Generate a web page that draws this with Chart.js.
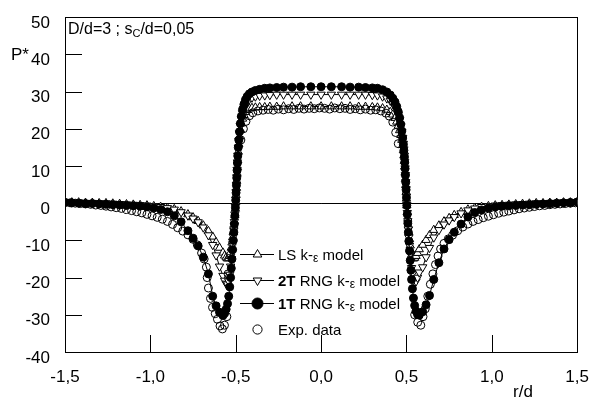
<!DOCTYPE html>
<html>
<head>
<meta charset="utf-8">
<script src="https://cdn.jsdelivr.net/npm/chart.js@4.4.0/dist/chart.umd.min.js"></script>
<style>
  html, body { margin: 0; padding: 0; background: #fff; }
  #wrap { width: 596px; height: 401px; }
</style>
</head>
<body>
<div id="wrap"><canvas id="pressaoChart" width="596" height="401"></canvas></div>
<script>
// r/d positions of the three model runs (same mesh for all)
const rModel = [
  -1.5, -1.46, -1.42, -1.38, -1.34, -1.3, -1.26, -1.22, -1.18, -1.14, -1.1, -1.06, -1.02, -0.98, -0.94, -0.9, -0.86, -0.82, -0.78, -0.75, -0.72, -0.69, -0.66, -0.635, -0.615, -0.595,
  -0.575, -0.565, -0.556, -0.548, -0.541, -0.535, -0.53, -0.526, -0.522, -0.518, -0.514, -0.511, -0.508, -0.505, -0.502,
  -0.5, -0.498, -0.496, -0.494, -0.492, -0.49, -0.488, -0.485, -0.482, -0.478, -0.473, -0.467, -0.46, -0.452, -0.443, -0.433, -0.42, -0.405, -0.385, -0.36, -0.33, -0.3, -0.26, -0.22, -0.17, -0.12, -0.06, 0,
  0.06, 0.12, 0.17, 0.22, 0.26, 0.3, 0.33, 0.36, 0.385, 0.405, 0.42, 0.433, 0.443, 0.452, 0.46, 0.467, 0.473, 0.478, 0.482, 0.485, 0.488, 0.49, 0.492, 0.494, 0.496, 0.498, 0.5,
  0.502, 0.505, 0.508, 0.511, 0.514, 0.518, 0.522, 0.526, 0.53, 0.535, 0.541, 0.548, 0.556, 0.565, 0.575,
  0.595, 0.615, 0.635, 0.66, 0.69, 0.72, 0.75, 0.78, 0.82, 0.86, 0.9, 0.94, 0.98, 1.02, 1.06, 1.1, 1.14, 1.18, 1.22, 1.26, 1.3, 1.34, 1.38, 1.42, 1.46, 1.5
];

// LS k-eps model
const pLS = [
  0.3, 0.2, 0.2, 0.1, 0.1, 0.0, 0.0, -0.1, -0.2, -0.3, -0.4, -0.5, -0.6, -0.8, -1.0, -1.3, -1.6, -2.2, -3.0, -3.8, -4.8, -6.0, -7.5, -9.0, -10.5, -12.0,
  -13.3, -14.1, -14.6, -14.9, -14.8, -14.2, -13.2, -12.0, -10.6, -9.2, -7.7, -6.3, -4.8, -3.2, -1.5,
  0.3, 2.2, 4.1, 6.0, 7.9, 9.7, 11.5, 13.8, 15.8, 17.9, 19.8, 21.4, 22.7, 23.7, 24.5, 25.0, 25.4, 25.6, 25.7, 25.8, 25.8, 25.9, 25.9, 26.0, 26.0, 26.0, 26.0, 26.0,
  26.0, 26.0, 26.0, 25.9, 25.9, 25.8, 25.7, 25.5, 25.1, 24.5, 23.8, 22.9, 21.9, 20.8, 19.6, 18.3, 17.0, 15.6, 14.2, 12.8, 11.3, 9.8, 8.2, 6.5, 4.8, 3.0, 1.2,
  -0.6, -2.4, -4.2, -6.0, -7.8, -9.7, -11.4, -12.8, -13.9, -14.6, -14.9, -14.7, -14.2, -13.4, -12.4,
  -11.2, -9.9, -8.6, -7.2, -6.0, -4.9, -4.0, -3.2, -2.4, -1.7, -1.3, -1.0, -0.8, -0.6, -0.5, -0.4, -0.3, -0.2, -0.1, 0.0, 0.0, 0.1, 0.1, 0.2, 0.2, 0.3
];

// 2T RNG k-eps model
const p2T = [
  0.3, 0.2, 0.2, 0.1, 0.1, 0.0, 0.0, -0.1, -0.2, -0.3, -0.4, -0.5, -0.6, -0.8, -1.0, -1.3, -1.7, -2.4, -3.3, -4.1, -5.1, -6.5, -8.6, -11.2, -14.0, -17.0,
  -19.5, -20.8, -21.6, -21.8, -21.0, -19.2, -17.0, -15.0, -13.0, -11.0, -9.0, -7.0, -5.0, -3.0, -1.0,
  1.0, 3.0, 5.0, 7.0, 9.0, 11.0, 12.8, 15.0, 16.8, 18.8, 20.8, 22.6, 24.2, 25.5, 26.6, 27.4, 28.0, 28.4, 28.7, 28.9, 29.0, 29.1, 29.2, 29.2, 29.2, 29.2, 29.2, 29.2,
  29.2, 29.2, 29.2, 29.2, 29.2, 29.1, 29.0, 28.7, 28.2, 27.6, 26.8, 25.9, 24.9, 23.7, 22.3, 20.8, 19.2, 17.6, 16.0, 14.5, 12.8, 11.2, 9.4, 7.6, 5.7, 3.8, 1.8,
  -0.4, -2.6, -4.8, -7.0, -9.2, -11.4, -13.6, -15.6, -17.4, -19.0, -20.3, -21.0, -21.0, -20.0, -18.6,
  -17.2, -14.5, -12.0, -9.2, -7.2, -5.7, -4.6, -3.7, -2.7, -1.9, -1.4, -1.0, -0.8, -0.6, -0.5, -0.4, -0.3, -0.2, -0.1, 0.0, 0.0, 0.1, 0.1, 0.2, 0.2, 0.3
];

// 1T RNG k-eps model
const p1T = [
  0.2, 0.1, 0.0, -0.1, -0.1, -0.2, -0.3, -0.4, -0.5, -0.6, -0.7, -0.8, -1.0, -1.3, -1.7, -2.3, -3.4, -5.0, -7.4, -9.4, -11.5, -14.5, -19.0, -25.0, -27.6, -29.3,
  -30.2, -29.6, -28.5, -27.0, -25.0, -22.5, -20.0, -17.5, -15.0, -12.5, -10.0, -7.8, -5.6, -3.4, -1.2,
  0.8, 2.8, 4.8, 6.8, 8.8, 10.8, 12.7, 15.0, 17.0, 19.2, 21.4, 23.4, 25.2, 26.6, 27.8, 28.7, 29.4, 29.9, 30.3, 30.6, 30.9, 31.0, 31.1, 31.2, 31.2, 31.3, 31.3, 31.3,
  31.3, 31.3, 31.2, 31.2, 31.1, 31.0, 30.9, 30.5, 29.9, 29.1, 28.2, 27.2, 26.0, 24.6, 23.0, 21.2, 19.4, 17.5, 15.8, 14.2, 12.5, 11.0, 9.3, 7.5, 5.6, 3.6, 1.5,
  -0.6, -3.0, -5.4, -7.8, -10.2, -12.8, -15.4, -18.0, -20.5, -23.0, -25.5, -27.5, -29.0, -29.9, -30.1,
  -29.2, -27.3, -24.8, -20.5, -16.0, -12.3, -9.8, -7.8, -5.6, -3.7, -2.5, -1.8, -1.3, -1.0, -0.8, -0.7, -0.6, -0.5, -0.4, -0.3, -0.2, -0.1, 0.0, 0.1, 0.2, 0.3
];

// measured points
const rExp = [
  -1.5, -1.47, -1.44, -1.41, -1.38, -1.35, -1.32, -1.29, -1.26, -1.23, -1.2, -1.17, -1.14, -1.11, -1.08, -1.05, -1.02, -0.99, -0.96, -0.93, -0.9, -0.87, -0.84, -0.81, -0.78, -0.75,
  -0.725, -0.7, -0.685, -0.672, -0.667, -0.66, -0.648, -0.636, -0.62, -0.607, -0.592, -0.578, -0.566, -0.552, -0.545,
  -0.47, -0.455, -0.44, -0.42, -0.4, -0.37, -0.34, -0.31, -0.28, -0.25, -0.22, -0.19, -0.16, -0.13, -0.1, -0.07, -0.04, -0.01,
  0.02, 0.05, 0.08, 0.11, 0.14, 0.17, 0.2, 0.23, 0.26, 0.29, 0.32, 0.35, 0.38, 0.4, 0.42, 0.437, 0.452,
  0.548, 0.566, 0.584, 0.597, 0.61, 0.625, 0.64, 0.655, 0.67, 0.685, 0.7, 0.72, 0.745, 0.77, 0.8, 0.83, 0.86, 0.89, 0.92, 0.95, 0.98,
  1.01, 1.04, 1.07, 1.1, 1.13, 1.16, 1.19, 1.22, 1.25, 1.28, 1.31, 1.34, 1.37, 1.4, 1.43, 1.46, 1.49
];
const pExp = [
  0.2, 0.1, 0.0, -0.1, -0.2, -0.3, -0.5, -0.6, -0.8, -1.0, -1.2, -1.4, -1.7, -2.0, -2.3, -2.6, -3.0, -3.4, -3.8, -4.3, -4.9, -5.7, -6.6, -7.5, -8.5, -9.7,
  -11.2, -13.4, -15.0, -17.2, -20.0, -22.8, -25.6, -28.0, -29.7, -31.2, -33.0, -33.8, -32.8, -30.5, -19.0,
  17.0, 20.0, 22.0, 23.5, 24.3, 24.8, 25.0, 25.2, 25.0, 25.3, 25.1, 25.4, 25.2, 25.5, 25.3, 25.5, 25.4, 25.6,
  25.5, 25.3, 25.6, 25.4, 25.5, 25.2, 25.4, 25.1, 25.3, 25.0, 25.1, 24.8, 24.2, 23.4, 21.8, 19.0, 16.0,
  -30.0, -32.0, -32.8, -30.5, -28.4, -25.0, -21.8, -19.0, -16.5, -14.2, -12.3, -10.8, -9.6, -8.6, -7.4, -6.4, -5.6, -4.9, -4.4, -3.9, -3.5,
  -3.1, -2.7, -2.4, -2.1, -1.8, -1.5, -1.3, -1.1, -0.9, -0.7, -0.6, -0.4, -0.3, -0.2, -0.1, 0.0, 0.1
];

const xTicks = [-1.5, -1.0, -0.5, 0.0, 0.5, 1.0, 1.5];
const yTicks = [-40, -30, -20, -10, 0, 10, 20, 30, 40, 50];

const FONTE = "'Liberation Sans', Arial, sans-serif";

function pontos(rs, ps) {
  return rs.map((r, i) => ({ x: r, y: ps[i] }));
}

// frame, zero line and the inward tick marks
const moldura = {
  id: 'moldura',
  beforeDatasetsDraw(chart) {
    const { ctx, chartArea: a, scales: { x, y } } = chart;
    ctx.save();
    ctx.strokeStyle = '#000';
    ctx.lineWidth = 1;
    ctx.beginPath();
    const y0 = Math.round(y.getPixelForValue(0)) + 0.5;
    ctx.moveTo(a.left, y0);
    ctx.lineTo(a.right, y0);
    yTicks.forEach(v => {
      const py = Math.round(y.getPixelForValue(v)) + 0.5;
      ctx.moveTo(a.left, py);
      ctx.lineTo(a.left + 17, py);
    });
    xTicks.forEach(v => {
      const px = Math.round(x.getPixelForValue(v)) + 0.5;
      ctx.moveTo(px, a.bottom);
      ctx.lineTo(px, a.bottom - 17);
    });
    ctx.stroke();
    ctx.strokeRect(Math.round(a.left) + 0.5, Math.round(a.top) + 0.5,
      Math.round(a.right - a.left), Math.round(a.bottom - a.top));
    ctx.restore();
  }
};

// writes a line made of pieces (bold, small greek letter, lowered subscript)
function textoRico(ctx, partes, x, y) {
  partes.forEach(p => {
    let tam = p.tam || 15;
    let dy = p.dy || 0;
    ctx.font = (p.negrito ? 'bold ' : '') + tam + 'px ' + FONTE;
    ctx.fillText(p.t, x, y + dy);
    x += ctx.measureText(p.t).width;
  });
}

const legenda = {
  id: 'legenda',
  afterDatasetsDraw(chart) {
    const ctx = chart.ctx;
    ctx.save();
    ctx.fillStyle = '#000';
    ctx.strokeStyle = '#000';
    ctx.textBaseline = 'alphabetic';
    const itens = [
      { y: 254, linha: true, estilo: { pointStyle: 'triangle', radius: 5, rotation: 0, borderWidth: 1 }, cheio: false,
        texto: [{ t: 'LS k-' }, { t: 'ε', tam: 12, dy: 2 }, { t: ' model' }] },
      { y: 280, linha: true, estilo: { pointStyle: 'triangle', radius: 5, rotation: 180, borderWidth: 1 }, cheio: false,
        texto: [{ t: '2T', negrito: true }, { t: ' RNG k-' }, { t: 'ε', tam: 12, dy: 2 }, { t: ' model' }] },
      { y: 303, linha: true, estilo: { pointStyle: 'circle', radius: 5.5, rotation: 0, borderWidth: 1 }, cheio: true,
        texto: [{ t: '1T', negrito: true }, { t: ' RNG k-' }, { t: 'ε', tam: 12, dy: 2 }, { t: ' model' }] },
      { y: 329, linha: false, estilo: { pointStyle: 'circle', radius: 4.6, rotation: 0, borderWidth: 1 }, cheio: false,
        texto: [{ t: 'Exp. data' }] }
    ];
    itens.forEach(it => {
      if (it.linha) {
        ctx.lineWidth = 1;
        ctx.beginPath();
        ctx.moveTo(240, it.y + 0.5);
        ctx.lineTo(274, it.y + 0.5);
        ctx.stroke();
      }
      ctx.fillStyle = it.cheio ? '#000' : '#fff';
      ctx.lineWidth = 1;
      Chart.helpers.drawPoint(ctx, it.estilo, 257.5, it.y + 0.5);
      ctx.fillStyle = '#000';
      textoRico(ctx, it.texto, 278, it.y + 5.5);
    });

    // case parameters and axis names
    textoRico(ctx, [{ t: 'D/d=3 ; s', tam: 16 }, { t: 'C', tam: 11, dy: 3 }, { t: '/d=0,05', tam: 16 }], 68, 34);
    textoRico(ctx, [{ t: 'P*', tam: 17 }], 11, 60);
    textoRico(ctx, [{ t: 'r/d', tam: 17 }], 513, 397);
    ctx.restore();
  }
};

const ctx = document.getElementById('pressaoChart').getContext('2d');
const pressaoChart = new Chart(ctx, {
  type: 'scatter',
  data: {
    datasets: [
      {
        label: 'Exp. data',
        data: pontos(rExp, pExp),
        showLine: false,
        pointStyle: 'circle',
        pointRadius: 4,
        pointBackgroundColor: 'rgba(255,255,255,0)',
        pointBorderColor: '#000',
        pointBorderWidth: 1,
        order: 0
      },
      {
        label: '1T RNG k-ε model',
        data: pontos(rModel, p1T),
        showLine: true,
        borderColor: '#000',
        borderWidth: 1,
        pointStyle: 'circle',
        pointRadius: 4,
        pointBackgroundColor: '#000',
        pointBorderColor: '#000',
        pointBorderWidth: 1,
        order: 1
      },
      {
        label: '2T RNG k-ε model',
        data: pontos(rModel, p2T),
        showLine: true,
        borderColor: '#000',
        borderWidth: 1,
        pointStyle: 'triangle',
        rotation: 180,
        pointRadius: 4.8,
        pointBackgroundColor: '#fff',
        pointBorderColor: '#000',
        pointBorderWidth: 1,
        order: 2
      },
      {
        label: 'LS k-ε model',
        data: pontos(rModel, pLS),
        showLine: true,
        borderColor: '#000',
        borderWidth: 1,
        pointStyle: 'triangle',
        pointRadius: 4.8,
        pointBackgroundColor: '#fff',
        pointBorderColor: '#000',
        pointBorderWidth: 1,
        order: 3
      }
    ]
  },
  options: {
    responsive: false,
    animation: false,
    devicePixelRatio: 1,
    layout: { padding: { left: 0, right: 17, top: 10, bottom: 0 } },
    plugins: {
      legend: { display: false },
      tooltip: { enabled: false }
    },
    scales: {
      x: {
        type: 'linear',
        min: -1.5,
        max: 1.5,
        grid: { display: false },
        border: { display: false },
        afterFit: s => { s.height = 49; },
        afterBuildTicks: s => { s.ticks = xTicks.map(v => ({ value: v })); },
        ticks: {
          autoSkip: false,
          maxRotation: 0,
          padding: 7,
          color: '#000',
          font: { family: FONTE, size: 17 },
          callback: v => v.toFixed(1).replace('.', ',')
        }
      },
      y: {
        type: 'linear',
        min: -40,
        max: 50,
        grid: { display: false },
        border: { display: false },
        afterFit: s => { s.width = 65; },
        afterBuildTicks: s => { s.ticks = yTicks.map(v => ({ value: v })); },
        ticks: {
          padding: 7,
          labelOffset: 6,
          color: '#000',
          font: { family: FONTE, size: 17 },
          callback: v => String(v)
        }
      }
    }
  },
  plugins: [moldura, legenda]
});
</script>
</body>
</html>
